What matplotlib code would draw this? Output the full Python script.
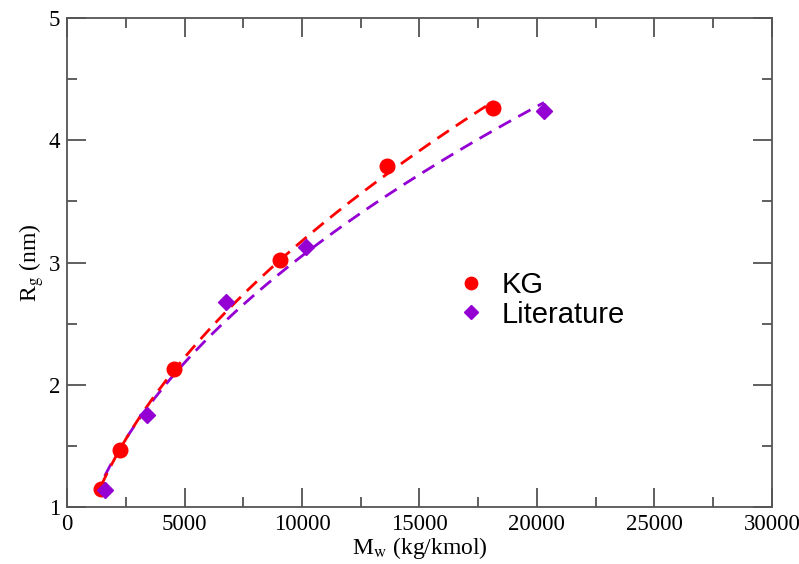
import numpy as np
import matplotlib.pyplot as plt
from matplotlib.ticker import MultipleLocator

plt.rcParams["mathtext.fontset"] = "stix"

# Molecular weight (kg/kmol) and radius of gyration (nm)
mw_kg = [1450, 2270, 4550, 9050, 13600, 18150]
rg_kg = [1.15, 1.466, 2.13, 3.02, 3.79, 4.264]

mw_lit = [1600, 3400, 6750, 10150, 20300]
rg_lit = [1.14, 1.753, 2.677, 3.127, 4.239]

RED = "#ff0000"
PURPLE = "#9400d3"


def power_fit(x, y):
    # least squares Rg = a * Mw^b, scanning the exponent
    x = np.asarray(x, float)
    y = np.asarray(y, float)
    best = None
    for b in np.linspace(0.3, 0.7, 401):
        xb = x ** b
        a = np.sum(y * xb) / np.sum(xb * xb)
        err = np.sum((y - a * xb) ** 2)
        if best is None or err < best[0]:
            best = (err, a, b)
    _, a, b = best
    xs = np.linspace(x.min(), x.max(), 200)
    return xs, a * xs ** b


fig = plt.figure(figsize=(7.99, 5.64), dpi=100)
ax = fig.add_axes([0.084, 0.101, 0.882, 0.867])

xf, yf = power_fit(mw_lit, rg_lit)
ax.plot(xf, yf, color=PURPLE, lw=2, ls=(0, (5, 3)))
xf, yf = power_fit(mw_kg, rg_kg)
ax.plot(xf, yf, color=RED, lw=2, ls=(0, (5, 3)))

h1, = ax.plot(mw_kg, rg_kg, "o", color=RED, ms=10.5, ls="none", label="KG")
h2, = ax.plot(mw_lit, rg_lit, "D", color=PURPLE, ms=8, ls="none", label="Literature")

ax.set_xlim(0, 30000)
ax.set_ylim(1, 5)
ax.xaxis.set_major_locator(MultipleLocator(5000))
ax.xaxis.set_minor_locator(MultipleLocator(2500))
ax.yaxis.set_major_locator(MultipleLocator(1))
ax.yaxis.set_minor_locator(MultipleLocator(0.5))

for s in ax.spines.values():
    s.set_color("#555555")
    s.set_linewidth(1.3)
ax.tick_params(which="both", direction="in", top=True, right=True,
               color="#444444", width=1.2, labelsize=16.5, pad=5)
ax.tick_params(which="major", length=14)
ax.tick_params(which="minor", length=7)
for lab in ax.get_xticklabels() + ax.get_yticklabels():
    lab.set_family("Liberation Serif")

ax.set_xlabel(r"M$_{\rm w}$ (kg/kmol)", family="Liberation Serif", fontsize=17, labelpad=0)
ax.set_ylabel(r"R$_{\rm g}$ (nm)", family="Liberation Serif", fontsize=17, labelpad=2)

leg = ax.legend(handles=[h1, h2], loc="upper left", bbox_to_anchor=(0.524, 0.524),
                frameon=False, prop={"family": "Liberation Sans", "size": 21},
                markerscale=0.85, handlelength=1.0, handletextpad=0.55,
                labelspacing=0.05, borderpad=0.2)

fig.savefig("out.png", dpi=100)
